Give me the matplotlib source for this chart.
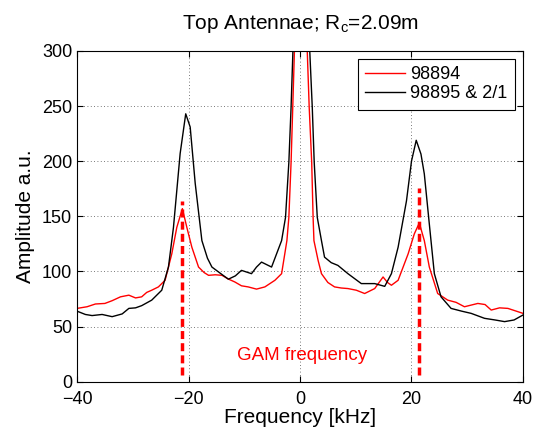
import matplotlib
matplotlib.use("Agg")
import matplotlib.pyplot as plt

plt.rcParams['font.family'] = ['Liberation Sans', 'DejaVu Sans']
plt.rcParams['mathtext.default'] = 'regular'

# shot 98894 (red)
f_red = [-40, -38.2, -36.7, -35, -33.7, -32.2, -30.7, -29.5, -28.4, -27.5, -26.6, -25.4,
         -24.2, -23, -22.1, -21.1, -20.3, -19.4, -18.2, -17.2, -16.4, -15.2, -14,
         -12.8, -11.7, -10.5, -9.3, -7.8, -6.3, -4.5, -3.3, -2.35, -2.0,
         -1.6, -1.3, -1.0, 0, 1.3, 1.65, 2.1, 2.35, 2.5, 3.25, 3.85, 5.0, 6.2, 7.4, 8.6,
         10.1, 11.6, 13.4, 14.9, 15.7, 16.4, 17.6, 19.4, 20.5, 21.4, 22.3, 23.2, 24.7, 26.5,
         28.0, 29.5, 31.9, 33.2, 34.3, 35.8, 37.3, 38.8, 40]
a_red = [66.5, 68, 70.5, 71, 73.5, 77, 78.5, 76, 77, 81, 83, 86,
         92, 116, 140, 157, 140, 122, 104, 99, 96.5, 97, 96.5,
         93, 90.5, 87, 86, 84, 86, 92, 98, 128, 149,
         199, 249, 300, 800, 300, 249, 199, 149, 128, 110, 98, 90, 86, 85, 84.5,
         83, 80, 84.5, 95, 90, 87.5, 92, 116, 134, 144, 128, 104, 80, 74,
         72, 68, 71, 70, 65, 67, 66.5, 64, 62]

# shot 98895 & 2/1 (black)
f_blk = [-40, -38.5, -37.3, -35.5, -33.7, -31.9, -30.7, -29.5, -28.4, -26.6, -24.8,
         -23.6, -22.7, -21.5, -20.5, -19.7, -18.8, -17.6, -16.6, -15.8, -14.2, -12.85,
         -11.6, -10.5, -8.7, -7.8, -6.9, -5.1, -3.3,
         -2.6, -2.0, -1.6, -1.27, 0, 1.75, 2.2, 2.55, 3.1, 3.85, 4.4, 5.6, 6.8, 8.6,
         11, 13.4, 15.2, 16.4, 17.6, 19.1, 20, 20.85, 21.7, 22.3, 23.2, 24.1,
         25.3, 27.1, 29.0, 30.7, 33.1, 35.0, 36.7, 38.4, 40]
a_blk = [64, 61, 60, 61, 59, 61.5, 66.5, 67, 69, 74, 83,
         104, 140, 207, 243, 231, 180, 128, 112, 104, 98, 93,
         96, 101, 98, 104, 108.5, 104, 128,
         149, 199, 249, 300, 800, 300, 249, 199, 149, 128, 113, 108, 105.5, 98,
         89, 89, 86.5, 98, 122, 164, 200, 219, 206.5, 188.5, 143, 98,
         77, 66.5, 64, 62, 57.5, 56, 54.5, 56, 60.5]

gam_f = [-21.1, 21.3]
gam_top = [164, 176]
gam_bottom = 6

fig = plt.figure(figsize=(5.36, 4.32), dpi=100)
ax = fig.add_axes([0.1437, 0.1164, 0.832, 0.7656])

ax.plot(f_red, a_red, color='red', lw=1.0, label='98894')
ax.plot(f_blk, a_blk, color='black', lw=1.0, label='98895 & 2/1')
for f, top in zip(gam_f, gam_top):
    ax.plot([f, f], [gam_bottom, top], color='red', lw=2.5, ls=(0, (2.3, 1.2)))

ax.text(0.3, 24, 'GAM frequency', color='red', fontsize=13.5, ha='center', va='center')

ax.set_xlim(-40, 40)
ax.set_ylim(0, 300)
ax.set_xticks([-40, -20, 0, 20, 40])
ax.set_yticks([0, 50, 100, 150, 200, 250, 300])
ax.grid(True, ls=(0, (1, 3)), color='black', lw=0.6, alpha=0.7)
ax.tick_params(direction='in', top=True, right=True, length=4, labelsize=13)
ax.tick_params(axis='x', pad=6.5)
for s in ax.spines.values():
    s.set_linewidth(0.8)

ax.set_xlabel('Frequency [kHz]', fontsize=15, labelpad=0)
ax.set_ylabel('Amplitude a.u.', fontsize=15, labelpad=5)
ax.set_title('Top Antennae; R$_c$=2.09m', fontsize=15, pad=16)

leg = ax.legend(loc='upper right', fontsize=13, fancybox=False, edgecolor='black',
                framealpha=1, borderaxespad=0.45, handlelength=2.2,
                handletextpad=0.3, borderpad=0.4, labelspacing=0.12)
leg.get_frame().set_linewidth(0.8)

fig.savefig('out.png', dpi=100)
